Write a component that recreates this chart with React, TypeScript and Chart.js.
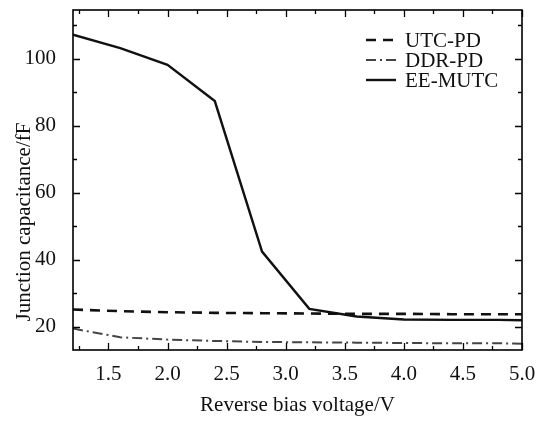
import React, { useEffect, useRef } from "react";
import { Chart, registerables } from "chart.js";

Chart.register(...registerables);

const voltages = [1.2, 1.6, 2.0, 2.4, 2.8, 3.2, 3.6, 4.0, 4.4, 4.8, 5.0];
const utcPd = [25.1, 24.6, 24.3, 24.1, 24.0, 23.9, 23.8, 23.8, 23.7, 23.7, 23.7];
const ddrPd = [19.4, 16.8, 16.1, 15.7, 15.4, 15.3, 15.2, 15.1, 15.0, 15.0, 14.9];
const eeMutc = [107.2, 103.2, 98.2, 87.4, 42.4, 25.3, 23.0, 22.1, 22.0, 22.0, 21.9];

const xMajorTicks = [1.5, 2.0, 2.5, 3.0, 3.5, 4.0, 4.5, 5.0];
const xMinorTicks = [1.25, 1.75, 2.25, 2.75, 3.25, 3.75, 4.25, 4.75];
const yMajorTicks = [20, 40, 60, 80, 100];
const yMinorTicks = [30, 50, 70, 90, 110];

const seriesNames = ["UTC-PD", "DDR-PD", "EE-MUTC"];
const xTitle = "Reverse bias voltage/V";
const yTitle = "Junction capacitance/fF";

const FONT = "'Liberation Serif', 'Times New Roman', serif";

export default function App() {
  const ref = useRef<HTMLCanvasElement | null>(null);

  useEffect(() => {
    if (!ref.current) return;
    const styles = [
      { color: "#111", width: 2.6, dash: [10, 7] },
      { color: "#444", width: 2, dash: [10, 4, 2, 4] },
      { color: "#111", width: 2.4, dash: [] as number[] },
    ];
    const values = [utcPd, ddrPd, eeMutc];

    const framePlugin = {
      id: "frame",
      afterDraw(chart: any) {
        const ctx = chart.ctx;
        const { left, right, top, bottom } = chart.chartArea;
        const xs = chart.scales.x;
        const ys = chart.scales.y;
        ctx.save();
        ctx.strokeStyle = "#000";
        ctx.lineWidth = 1.6;
        ctx.setLineDash([]);
        ctx.strokeRect(left, top, right - left, bottom - top);
        ctx.lineWidth = 1.3;
        const drawX = (v: number, len: number) => {
          const p = Math.round(xs.getPixelForValue(v)) + 0.5;
          ctx.beginPath();
          ctx.moveTo(p, bottom);
          ctx.lineTo(p, bottom - len);
          ctx.moveTo(p, top);
          ctx.lineTo(p, top + len);
          ctx.stroke();
        };
        const drawY = (v: number, len: number) => {
          const p = Math.round(ys.getPixelForValue(v)) + 0.5;
          ctx.beginPath();
          ctx.moveTo(left, p);
          ctx.lineTo(left + len, p);
          ctx.moveTo(right, p);
          ctx.lineTo(right - len, p);
          ctx.stroke();
        };
        xMajorTicks.forEach((v) => drawX(v, 7));
        xMinorTicks.forEach((v) => drawX(v, 4));
        yMajorTicks.forEach((v) => drawY(v, 7));
        yMinorTicks.forEach((v) => drawY(v, 4));

        // axis titles
        ctx.fillStyle = "#111";
        ctx.font = `21px ${FONT}`;
        ctx.textAlign = "center";
        ctx.textBaseline = "middle";
        ctx.fillText(xTitle, (left + right) / 2, 405);
        ctx.save();
        ctx.translate(24, 222);
        ctx.rotate(-Math.PI / 2);
        ctx.fillText(yTitle, 0, 0);
        ctx.restore();

        // legend
        const ly = [40, 60, 80];
        ctx.textAlign = "left";
        seriesNames.forEach((name, i) => {
          const s = styles[i];
          ctx.strokeStyle = s.color;
          ctx.lineWidth = s.width;
          ctx.setLineDash(s.dash);
          ctx.beginPath();
          ctx.moveTo(366, ly[i]);
          ctx.lineTo(396, ly[i]);
          ctx.stroke();
          ctx.setLineDash([]);
          ctx.fillStyle = "#111";
          ctx.fillText(name, 405, ly[i] + 1);
        });
        ctx.restore();
      },
    };

    const chart = new Chart(ref.current, {
      type: "line",
      data: {
        datasets: seriesNames.map((name, i) => ({
          label: name,
          data: voltages.map((x, j) => ({ x, y: values[i][j] })),
          borderColor: styles[i].color,
          borderWidth: styles[i].width,
          borderDash: styles[i].dash,
          pointRadius: 0,
          tension: 0,
          fill: false,
        })),
      },
      options: {
        animation: false,
        responsive: false,
        maintainAspectRatio: false,
        layout: { padding: { top: 10, right: 14, left: 0, bottom: 0 } },
        plugins: { legend: { display: false }, tooltip: { enabled: false } },
        scales: {
          x: {
            type: "linear",
            min: 1.2,
            max: 5.0,
            grid: { display: false },
            border: { display: false },
            afterBuildTicks: (s: any) => {
              s.ticks = xMajorTicks.map((v) => ({ value: v }));
            },
            afterFit: (s: any) => {
              s.height = 71;
              s.paddingLeft = 0;
              s.paddingRight = 0;
            },
            ticks: {
              color: "#111",
              font: { family: FONT, size: 21 },
              padding: 4,
              maxRotation: 0,
              autoSkip: false,
              callback: (v: any) => Number(v).toFixed(1),
            },
          },
          y: {
            type: "linear",
            min: 13,
            max: 114.6,
            grid: { display: false },
            border: { display: false },
            afterBuildTicks: (s: any) => {
              s.ticks = yMajorTicks.map((v) => ({ value: v }));
            },
            afterFit: (s: any) => {
              s.width = 73;
              s.paddingTop = 0;
              s.paddingBottom = 0;
            },
            ticks: {
              color: "#111",
              font: { family: FONT, size: 21 },
              padding: 9,
              autoSkip: false,
              callback: (v: any) => String(v),
            },
          },
        },
      },
      plugins: [framePlugin],
    } as any);
    return () => chart.destroy();
  }, []);

  return (
    <div style={{ position: "fixed", left: 0, top: 0, width: 536, height: 421, background: "#fff" }}>
      <canvas ref={ref} width={536} height={421} style={{ width: 536, height: 421 }} />
    </div>
  );
}
